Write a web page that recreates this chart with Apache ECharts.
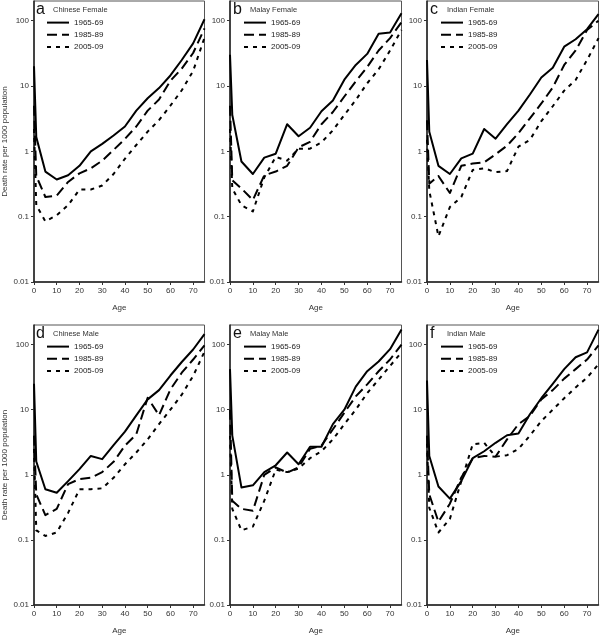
<!DOCTYPE html>
<html>
<head>
<meta charset="utf-8">
<script src="https://cdn.jsdelivr.net/npm/echarts@6/dist/echarts.min.js"></script>
<style>html,body{margin:0;padding:0;background:#fff}#c{width:600px;height:636px}</style>
</head>
<body>
<div id="c"></div>
<script>
const ages = [0,1,5,10,15,20,25,30,35,40,45,50,55,60,65,70,75];
const periods = ['1965-69','1985-89','2005-09'];
const panelLetters = ['a','b','c','d','e','f'];
const panelTitles = ['Chinese Female','Malay Female','Indian Female','Chinese Male','Malay Male','Indian Male'];
const yTicks = [0.01,0.1,1,10,100];
const xTicks = [0,10,20,30,40,50,60,70];

// Chinese Female
const cf65 = [20,1.65,0.49,0.37,0.43,0.6,1.0,1.3,1.75,2.4,4.2,6.5,9.3,14.5,25,45,105];
const cf85 = [5,0.42,0.2,0.21,0.34,0.46,0.55,0.72,1.05,1.55,2.4,4.2,6.2,12,18.5,32,76];
const cf05 = [2.2,0.15,0.085,0.105,0.15,0.26,0.26,0.3,0.45,0.77,1.25,2.0,3.0,5.0,8.6,17,55];
// Malay Female
const mf65 = [30,3.6,0.7,0.45,0.8,0.92,2.6,1.7,2.3,4.1,6.0,12.5,21,31,63,66,130];
const mf85 = [5,0.36,0.27,0.18,0.43,0.49,0.6,1.15,1.4,2.6,4.0,6.9,11.8,19.5,35,54,95];
const mf05 = [2.2,0.27,0.15,0.12,0.4,0.82,0.72,1.1,1.1,1.37,2.1,3.6,6.1,11,18,35,72];
// Indian Female
const if65 = [25,2.0,0.6,0.45,0.78,0.92,2.2,1.56,2.6,4.2,7.4,13.5,19,40,52,74,126];
const if85 = [3,0.32,0.42,0.23,0.6,0.65,0.68,0.9,1.22,1.9,3.2,5.4,9.5,21,35,72,100];
const if05 = [1.5,0.25,0.05,0.14,0.2,0.52,0.55,0.48,0.5,1.18,1.5,2.9,4.9,8.5,12.4,25,54];
// Chinese Male
const cm65 = [25,1.6,0.6,0.53,0.8,1.22,1.95,1.74,2.85,4.6,8.2,14.4,20,33.5,54,84,145];
const cm85 = [4,0.5,0.24,0.3,0.72,0.86,0.9,1.1,1.58,2.8,4.2,15.3,8.2,20.5,37,59,97];
const cm05 = [2.5,0.14,0.115,0.13,0.26,0.6,0.6,0.62,0.9,1.45,2.2,3.5,6,10,17,33,78];
// Malay Male
const mm65 = [42,4,0.64,0.69,1.1,1.4,2.2,1.45,2.7,2.7,6,10,22.6,39,55,85,170];
const mm85 = [10,0.4,0.3,0.28,1.0,1.3,1.08,1.3,2.5,2.8,5,9,16,24.5,39,59,100];
const mm05 = [4,0.3,0.14,0.16,0.4,1.2,1.1,1.25,1.8,2.3,3.5,6,10,18,29,47,76];
// Indian Male
const im65 = [28,1.95,0.66,0.43,0.8,1.8,2.3,3.1,4.05,4.3,8.5,15,25,42,64,76,170];
const im85 = [4,0.5,0.19,0.36,0.91,1.8,1.95,1.9,3.5,6,8,14.4,20,30,42,59,97];
const im05 = [3,0.31,0.13,0.21,0.8,2.95,3.1,1.9,2.0,2.5,4,6.7,10,15,22,31,50];

const panels = [
  [cf65, cf85, cf05], [mf65, mf85, mf05], [if65, if85, if05],
  [cm65, cm85, cm05], [mm65, mm85, mm05], [im65, im85, im05]
];

const FONT = 'Liberation Sans, Arial, sans-serif';
const lefts = [33, 230, 427];
const tops = [1, 325];
const W = 171.5, H = 281;
const lineStyles = [
  {type: 'solid', width: 2},
  {type: [10, 5], width: 2},
  {type: [4, 5], width: 2}
];

const grid = [], xAxis = [], yAxis = [], series = [], legend = [], graphic = [];
panels.forEach((p, i) => {
  const col = i % 3, row = Math.floor(i / 3);
  const L = lefts[col], T = tops[row];
  grid.push({left: L, top: T, width: W, height: H, show: true, borderColor: '#555', borderWidth: 1, backgroundColor: 'transparent'});
  xAxis.push({
    gridIndex: i, type: 'value', min: 0, max: 75,
    name: 'Age', nameLocation: 'middle', nameGap: 22,
    nameTextStyle: {fontFamily: FONT, fontSize: 8, color: '#333'},
    axisLine: {lineStyle: {color: '#222', width: 1.5}},
    axisTick: {show: true, length: 3, customValues: xTicks, lineStyle: {color: '#333'}},
    axisLabel: {customValues: xTicks, fontFamily: FONT, fontSize: 8, color: '#333', margin: 5},
    splitLine: {show: false}
  });
  yAxis.push({
    gridIndex: i, type: 'log', logBase: 10, min: 0.01, max: 200,
    name: col === 0 ? 'Death rate per 1000 population' : '',
    nameLocation: 'middle', nameGap: 25, nameRotate: 90,
    nameTextStyle: {fontFamily: FONT, fontSize: 8, color: '#333'},
    axisLine: {show: true, lineStyle: {color: '#222', width: 1.5}},
    axisTick: {show: true, length: 3, customValues: yTicks, lineStyle: {color: '#333'}},
    axisLabel: {customValues: yTicks, fontFamily: FONT, fontSize: 8, color: '#333', margin: 5,
      formatter: v => String(v)},
    splitLine: {show: false}, minorTick: {show: false}
  });
  p.forEach((vals, k) => {
    series.push({
      type: 'line', name: periods[k], xAxisIndex: i, yAxisIndex: i,
      data: ages.map((a, j) => [a, vals[j]]),
      symbol: 'none', showSymbol: false, silent: true, animation: false,
      lineStyle: Object.assign({color: '#000', cap: 'butt', join: 'round'}, lineStyles[k]),
      itemStyle: {color: '#000'}
    });
  });
  legend.push({
    data: periods, orient: 'vertical', left: L + 13, top: T + 16,
    itemWidth: 22, itemHeight: 14, itemGap: 1, selectedMode: false,
    itemStyle: {opacity: 0, borderWidth: 0},
    textStyle: {fontFamily: FONT, fontSize: 8, color: '#222'},
    padding: 0
  });
  graphic.push({type: 'text', left: L + 3, top: T + 1, silent: true,
    style: {text: panelLetters[i], fontFamily: FONT, fontSize: 16, fill: '#111'}});
  graphic.push({type: 'text', left: L + 20, top: T + 5, silent: true,
    style: {text: panelTitles[i], fontFamily: FONT, fontSize: 7.5, fill: '#333'}});
});

const chart = echarts.init(document.getElementById('c'), null, {renderer: 'canvas'});
chart.setOption({
  animation: false,
  backgroundColor: '#fff',
  grid, xAxis, yAxis, series, legend, graphic
});
</script>
</body>
</html>
